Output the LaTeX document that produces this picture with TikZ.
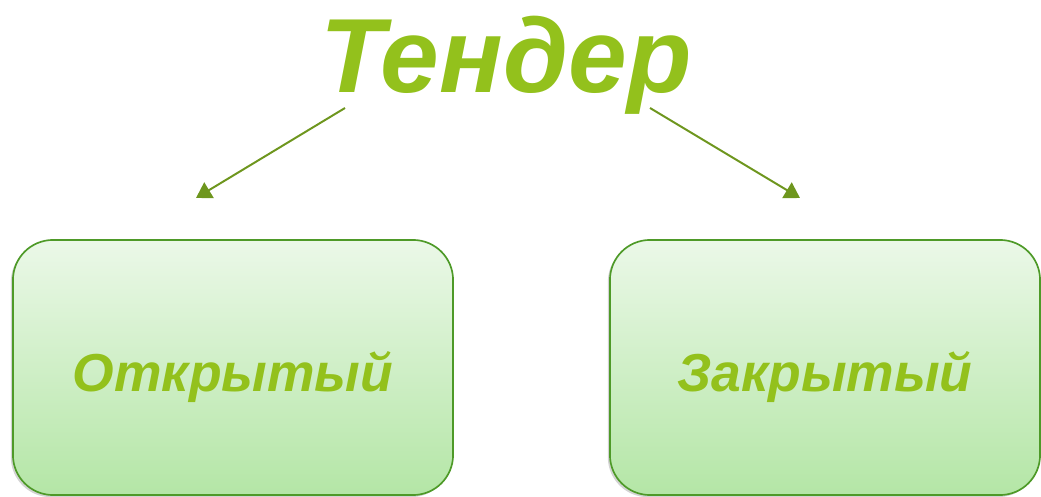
\documentclass[tikz,border=0pt]{standalone}
\usepackage{fontspec}
\setmainfont{Liberation Sans}
\usepackage{tikz}
\usetikzlibrary{arrows.meta,shadows}

\definecolor{leafgreen}{RGB}{147,193,28}
\definecolor{olivegreen}{RGB}{110,150,30}
\definecolor{framegreen}{RGB}{78,154,40}
\definecolor{paletop}{RGB}{235,248,232}
\definecolor{palebottom}{RGB}{180,230,166}

\tikzset{
  kind/.style={draw=framegreen, line width=1.2pt, rounded corners=1cm,
    top color=paletop, bottom color=palebottom,
    drop shadow={shadow xshift=-1.5pt, shadow yshift=-1.5pt, opacity=0.35},
    minimum height=6.375cm, inner sep=0pt, text height=1.175cm, text depth=0pt,
    text=leafgreen, font=\bfseries\itshape\fontsize{38}{44}\selectfont},
  branch/.style={olivegreen, line width=1.4pt,
    -{Triangle[length=3.8mm,width=4.5mm]}}
}

\begin{document}
\begin{tikzpicture}[x=0.025cm, y=-0.025cm]
  \useasboundingbox (0,0) rectangle (1041,497);
  % draw title
  \node (tender) [anchor=base, text=leafgreen,
        font=\bfseries\itshape\fontsize{75}{80}\selectfont] at (506,93) {Тендер};
  % draw boxes
  \node (open)   [kind, minimum width=11cm]    at (233,367.5) {Открытый};
  \node (closed) [kind, minimum width=10.75cm] at (825,367.5) {Закрытый};
  % draw arrows
  \coordinate (lefttail)  at (345,108);
  \coordinate (lefthead)  at (196,198);
  \coordinate (righttail) at (650,108);
  \coordinate (righthead) at (800,198);
  \draw [branch] (lefttail)  -- (lefthead);
  \draw [branch] (righttail) -- (righthead);
\end{tikzpicture}
\end{document}
